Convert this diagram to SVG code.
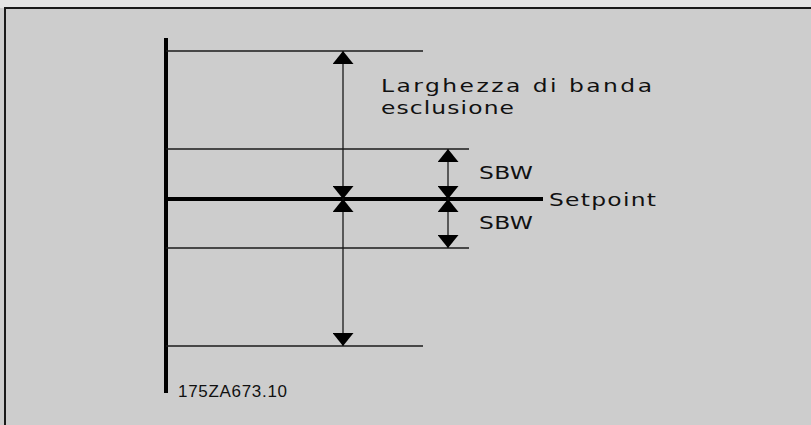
<svg xmlns="http://www.w3.org/2000/svg" width="811" height="425" viewBox="0 0 811 425">
<defs>
<style>
.thin{stroke:#1a1a1a;stroke-width:1.3;fill:none}
.thick{stroke:#000;stroke-width:4;fill:none}
.lbl{font-family:"DejaVu Sans","Liberation Sans",sans-serif;font-size:18px;fill:#111}
.code{font-family:"Liberation Sans",Arial,sans-serif;font-size:17px;fill:#111}
.arr{stroke:#1a1a1a;stroke-width:1.3;fill:none;marker-start:url(#ah);marker-end:url(#ah)}
</style>
<marker id="ah" viewBox="0 0 13 21" refX="13" refY="10.5" markerUnits="userSpaceOnUse" markerWidth="13" markerHeight="21" orient="auto-start-reverse">
<path d="M0,0 L13,10.5 L0,21 Z" fill="#000"/>
</marker>
</defs>
<rect x="0" y="0" width="811" height="425" fill="#cdcdcd"/>
<rect x="0" y="0" width="811" height="8" fill="#e4e4e4"/>
<path d="M5,430 V8 H820" stroke="#1a1a1a" stroke-width="2" fill="none"/>
<g id="axis">
<line class="thick" x1="166" y1="38" x2="166" y2="393"/>
</g>
<g id="levels">
<line class="thin" x1="166" y1="51" x2="423" y2="51"/>
<line class="thin" x1="166" y1="149" x2="469" y2="149"/>
<line class="thick" x1="166" y1="199" x2="543" y2="199"/>
<line class="thin" x1="166" y1="248" x2="469" y2="248"/>
<line class="thin" x1="166" y1="346" x2="423" y2="346"/>
</g>
<g id="connectors">
<line class="arr" x1="343" y1="51" x2="343" y2="199"/>
<line class="arr" x1="343" y1="199" x2="343" y2="346"/>
<line class="arr" x1="448" y1="149" x2="448" y2="199"/>
<line class="arr" x1="448" y1="199" x2="448" y2="248"/>
</g>
<g id="label-band">
<text class="lbl" transform="translate(381,92) scale(1.3,1)" textLength="208.5" lengthAdjust="spacing">Larghezza di banda</text>
<text class="lbl" transform="translate(381,114) scale(1.3,1)" textLength="102.3" lengthAdjust="spacing">esclusione</text>
</g>
<g id="label-sbw1"><text class="lbl" transform="translate(479,179) scale(1.3,1)" textLength="41.5" lengthAdjust="spacing">SBW</text></g>
<g id="label-sbw2"><text class="lbl" transform="translate(479,229) scale(1.3,1)" textLength="41.5" lengthAdjust="spacing">SBW</text></g>
<g id="label-setpoint"><text class="lbl" transform="translate(549,206) scale(1.3,1)" textLength="82.3" lengthAdjust="spacing">Setpoint</text></g>
<g id="code"><text class="code" x="178" y="397" textLength="109" lengthAdjust="spacing">175ZA673.10</text></g>
</svg>
